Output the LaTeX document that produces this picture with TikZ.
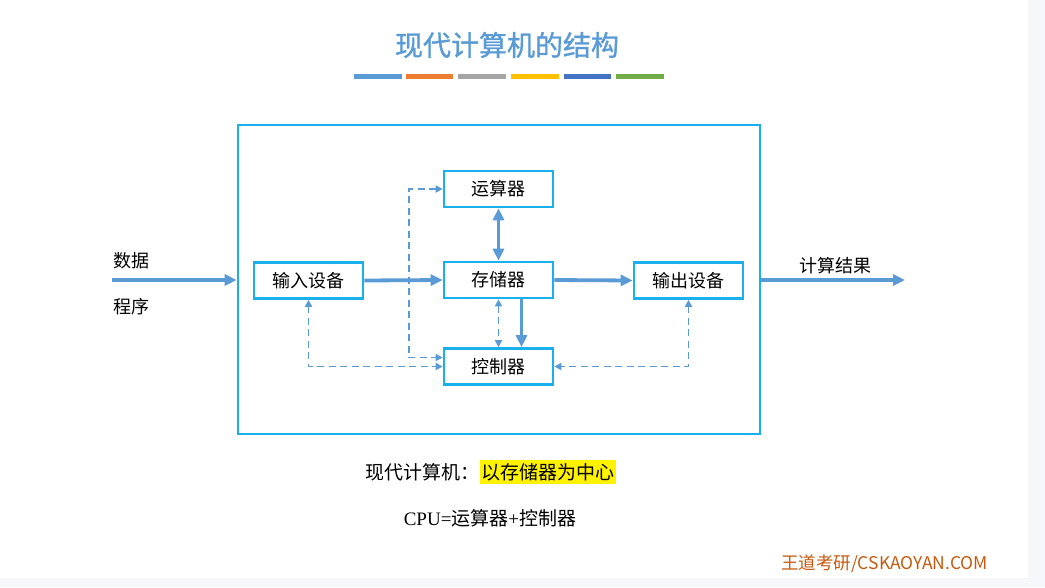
\documentclass[tikz,border=0pt]{standalone}
\usepackage{fontspec}
\setmainfont{Liberation Serif}
\newfontfamily\cjk{Noto Sans CJK SC}
\newfontfamily\cjkb[FakeBold=1.2]{Noto Sans CJK SC}
\usetikzlibrary{arrows.meta,calc}
\definecolor{boxc}{HTML}{1AB0EC}
\definecolor{arrc}{HTML}{5B9BD5}
\definecolor{bgc}{HTML}{F5F7FA}
\definecolor{titlec}{HTML}{5B9BD5}
\definecolor{footc}{HTML}{C55A11}
\definecolor{barA}{HTML}{5B9BD5}
\definecolor{barB}{HTML}{ED7D31}
\definecolor{barC}{HTML}{A5A5A5}
\definecolor{barD}{HTML}{FFC000}
\definecolor{barE}{HTML}{4472C4}
\definecolor{barF}{HTML}{70AD47}
\tikzset{
  unit/.style={draw=boxc, line width=2.6pt, fill=white, minimum width=109pt, minimum height=36pt, inner sep=0pt,
    font=\cjk\fontsize{18}{20}\selectfont},
  sysbox/.style={draw=boxc, line width=2.6pt, minimum width=522pt, minimum height=309pt, inner sep=0pt},
  thick arr/.style={draw=arrc, line width=3.8pt, -{Triangle[length=12pt,width=11pt]}},
  thick dbl/.style={draw=arrc, line width=3.8pt, {Triangle[length=12pt,width=11pt]}-{Triangle[length=12pt,width=11pt]}},
  dasharr/.style={draw=arrc, line width=1.8pt, dash pattern=on 7pt off 4.5pt, {Triangle[length=7pt,width=7pt]}-{Triangle[length=7pt,width=7pt]}},
  lbl/.style={font=\cjk\fontsize{18}{20}\selectfont, inner sep=0pt},
}
\begin{document}
\begin{tikzpicture}[x=1pt,y=-1pt]
\fill[bgc] (0,0) rectangle (1045,587);
\fill[white] (0,0) rectangle (1028,578);
\useasboundingbox (0,0) rectangle (1045,587);

% title
\node[text=titlec, font=\cjkb\fontsize{28}{30}\selectfont, inner sep=0pt] (title) at (507,45) {现代计算机的结构};
\foreach \c/\x in {barA/354,barB/405.5,barC/458,barD/511,barE/563.5,barF/616}
  \fill[\c] (\x,73.5) rectangle ++(47.5,5.5);

% system box
\node[sysbox] (sys) at (499,279.5) {};

% units
\node[unit] (alu) at (498.5,189) {运算器};
\node[unit] (mem) at (498.5,280) {存储器};
\node[unit] (ctrl) at (498.5,366.5) {控制器};
\node[unit] (in) at (308.5,280.5) {输入设备};
\node[unit] (out) at (688.5,280.5) {输出设备};

% thick connections
\draw[thick arr] (in.east) -- (mem.west);
\draw[thick arr] (mem.east) -- (out.west);
\draw[thick dbl] (alu.south) -- (mem.north);
\draw[thick arr] ([xshift=23pt]mem.south) -- ([xshift=23pt]ctrl.north);

% dashed control lines
\draw[dasharr] (mem.south) -- (ctrl.north);
\draw[dasharr] (alu.west) -- ++(-34,0) |- ([yshift=9pt]ctrl.west);
\draw[dasharr] (in.south) |- (ctrl.west);
\draw[dasharr] (out.south) |- (ctrl.east);

% input / output
\coordinate (src) at (112,280);
\coordinate (dst) at (905,280);
\draw[thick arr] (src) -- (src-|sys.west);
\draw[thick arr] (sys.east|-dst) -- (dst);
\node[lbl, anchor=west] (data) at (113,261) {数据};
\node[lbl, anchor=west] (prog) at (113,307) {程序};
\node[lbl] (res) at (835,266) {计算结果};

% bottom text
\node[font=\cjk\fontsize{19}{21}\selectfont, inner sep=0pt, anchor=east] (modern) at (479.5,472) {现代计算机：};
\node[font=\cjk\fontsize{19}{21}\selectfont, fill=yellow, inner xsep=1.5pt, minimum height=21pt, anchor=west] (center) at (479.5,472) {以存储器为中心};
\node[font=\fontsize{19}{21}\selectfont, inner sep=0pt] (cpu) at (490,518) {CPU={\cjk 运算器}+{\cjk 控制器}};

% footer
\node[text=footc, font=\cjk\fontsize{17.5}{19}\selectfont, inner sep=0pt, anchor=west] (foot) at (781,564) {王道考研/CSKAOYAN.COM};
\end{tikzpicture}
\end{document}
